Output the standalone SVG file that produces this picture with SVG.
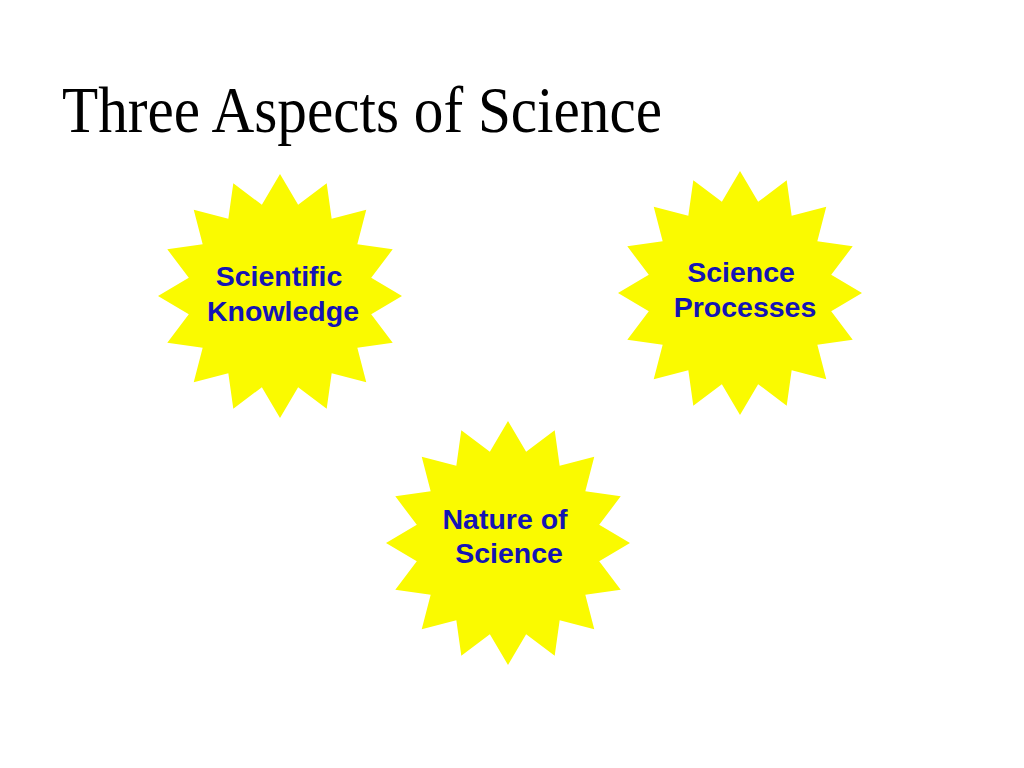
<svg xmlns="http://www.w3.org/2000/svg" width="1024" height="768" viewBox="0 0 1024 768">
<style>
.title{font-family:"Liberation Serif","DejaVu Serif",serif;font-size:65px;fill:#000}
.lbl{font-family:"Liberation Sans",Arial,sans-serif;font-weight:bold;font-size:28.5px;fill:#1414b4;text-anchor:middle}
.star{fill:#fafa00}
</style>
<defs>
<polygon id="star16" points="0,-122 18.14,-91.21 46.69,-112.71 51.67,-77.33 86.27,-86.27 77.33,-51.67 112.71,-46.69 91.21,-18.14 122,0 91.21,18.14 112.71,46.69 77.33,51.67 86.27,86.27 51.67,77.33 46.69,112.71 18.14,91.21 0,122 -18.14,91.21 -46.69,112.71 -51.67,77.33 -86.27,86.27 -77.33,51.67 -112.71,46.69 -91.21,18.14 -122,0 -91.21,-18.14 -112.71,-46.69 -77.33,-51.67 -86.27,-86.27 -51.67,-77.33 -46.69,-112.71 -18.14,-91.21"/>
</defs>
<rect width="1024" height="768" fill="#fff"/>
<text class="title" x="62" y="132" textLength="600" lengthAdjust="spacingAndGlyphs">Three Aspects of Science</text>
<g id="scientific-knowledge">
<use href="#star16" class="star" transform="translate(280,296)"/>
<text class="lbl" x="279" y="286">Scientific</text>
<text class="lbl" x="283" y="321">Knowledge</text>
</g>
<g id="science-processes">
<use href="#star16" class="star" transform="translate(740,293)"/>
<text class="lbl" x="741" y="282">Science</text>
<text class="lbl" x="745" y="317">Processes</text>
</g>
<g id="nature-of-science">
<use href="#star16" class="star" transform="translate(508,543)"/>
<text class="lbl" x="505" y="529">Nature of</text>
<text class="lbl" x="509" y="563">Science</text>
</g>
<g id="connectors"></g>
</svg>
